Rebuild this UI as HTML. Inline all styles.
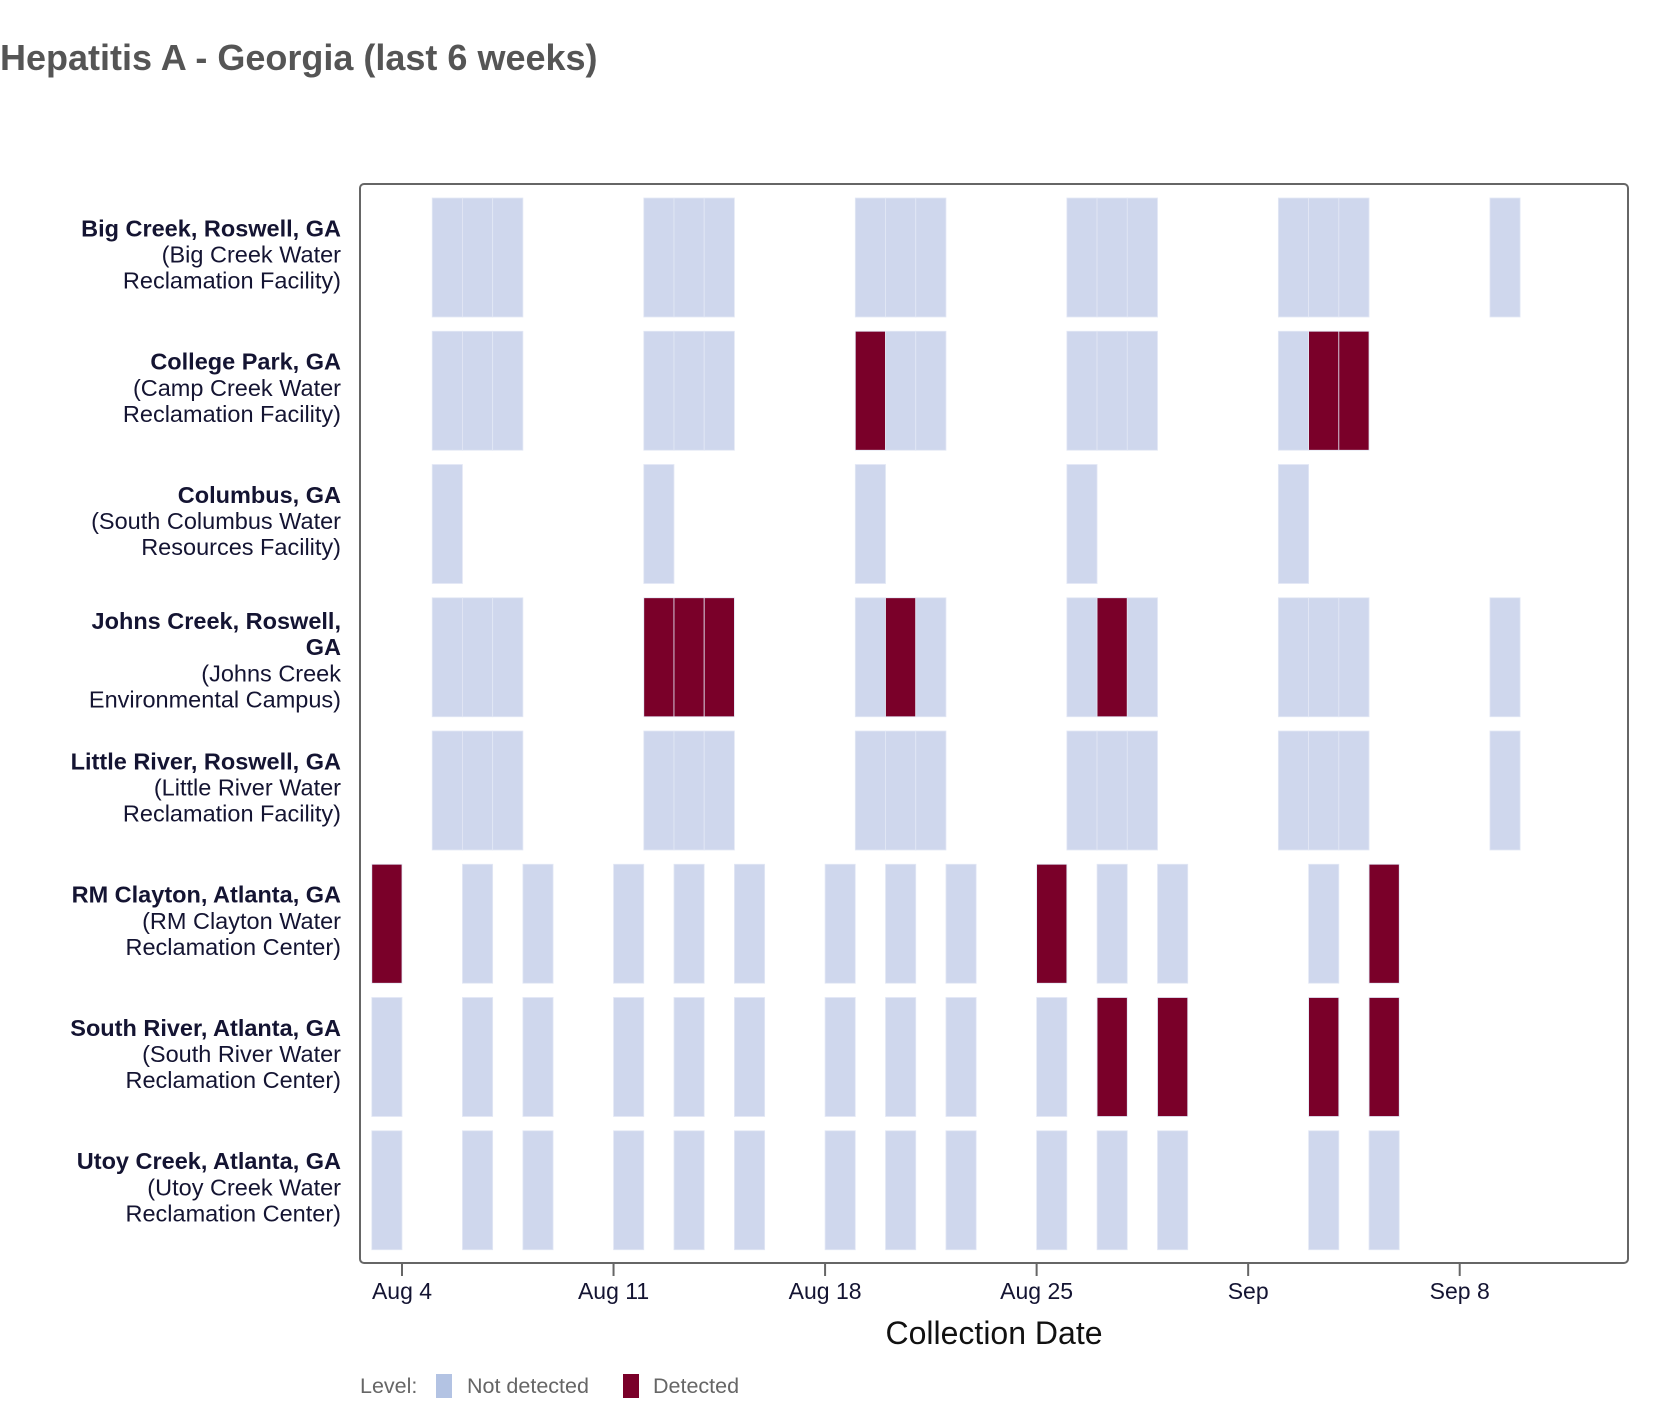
<!DOCTYPE html>
<html><head><meta charset="utf-8"><style>
html,body{margin:0;padding:0;background:#fff;}
svg{display:block;font-family:"Liberation Sans",Arial,sans-serif;}
</style></head><body>
<svg id="chart" width="1668" height="1414" viewBox="0 0 1668 1414">
<text x="0" y="70" font-size="36" font-weight="bold" fill="#555555">Hepatitis A - Georgia (last 6 weeks)</text>
<g id="tiles"></g>
<g id="ylabels"></g>
<rect x="360" y="184" width="1268" height="1079" rx="4" fill="none" stroke="#666" stroke-width="2"/>
<g id="xaxis"></g>
<text x="994" y="1344" font-size="32" text-anchor="middle" fill="#111">Collection Date</text>
<g>
<text x="360" y="1393" font-size="21.5" fill="#666">Level:</text>
<rect x="436" y="1374" width="16" height="24" fill="#b3c3e3"/>
<text x="467" y="1393" font-size="21.5" fill="#666">Not detected</text>
<rect x="623" y="1374" width="16" height="24" fill="#7a0029"/>
<text x="653" y="1393" font-size="21.5" fill="#666">Detected</text>
</g>
</svg>
<script>
// Day offsets relative to Aug 4 (tile spans [day, day+1])
const sites = [
 ["Big Creek, Roswell, GA","(Big Creek Water","Reclamation Facility)"],
 ["College Park, GA","(Camp Creek Water","Reclamation Facility)"],
 ["Columbus, GA","(South Columbus Water","Resources Facility)"],
 ["Johns Creek, Roswell,","GA","(Johns Creek","Environmental Campus)"],
 ["Little River, Roswell, GA","(Little River Water","Reclamation Facility)"],
 ["RM Clayton, Atlanta, GA","(RM Clayton Water","Reclamation Center)"],
 ["South River, Atlanta, GA","(South River Water","Reclamation Center)"],
 ["Utoy Creek, Atlanta, GA","(Utoy Creek Water","Reclamation Center)"]
];
const boldLines = [1,1,1,2,1,1,1,1];
const bigCreekDays = [1,2,3,8,9,10,15,16,17,22,23,24,29,30,31,36];
const bigCreekDetected = [];
const collegeParkDays = [1,2,3,8,9,10,15,16,17,22,23,24,29,30,31];
const collegeParkDetected = [15,30,31];
const columbusDays = [1,8,15,22,29];
const columbusDetected = [];
const johnsCreekDays = [1,2,3,8,9,10,15,16,17,22,23,24,29,30,31,36];
const johnsCreekDetected = [8,9,10,16,23];
const littleRiverDays = [1,2,3,8,9,10,15,16,17,22,23,24,29,30,31,36];
const littleRiverDetected = [];
const rmClaytonDays = [-1,2,4,7,9,11,14,16,18,21,23,25,30,32];
const rmClaytonDetected = [-1,21,32];
const southRiverDays = [-1,2,4,7,9,11,14,16,18,21,23,25,30,32];
const southRiverDetected = [23,25,30,32];
const utoyDays = [-1,2,4,7,9,11,14,16,18,21,23,25,30,32];
const utoyDetected = [];
const tickDays = [0,7,14,21,28,35];
const tickLabels = ["Aug 4","Aug 11","Aug 18","Aug 25","Sep","Sep 8"];

const allDays=[bigCreekDays,collegeParkDays,columbusDays,johnsCreekDays,littleRiverDays,rmClaytonDays,southRiverDays,utoyDays];
const allDet=[bigCreekDetected,collegeParkDetected,columbusDetected,johnsCreekDetected,littleRiverDetected,rmClaytonDetected,southRiverDetected,utoyDetected];

const NS="http://www.w3.org/2000/svg";
const x0=402, dayW=30.22;
const xs=d=>x0+d*dayW;
const rowTop=i=>198+i*133.25;
const tileH=119;
const tiles=document.getElementById('tiles');
allDays.forEach((days,i)=>{
  days.forEach(d=>{
    const r=document.createElementNS(NS,'rect');
    r.setAttribute('x',xs(d));
    r.setAttribute('y',rowTop(i));
    r.setAttribute('width',dayW);
    r.setAttribute('height',tileH);
    const det=allDet[i].includes(d);
    r.setAttribute('fill',det?'#7a0029':'#cfd7ed');
    r.setAttribute('stroke','#e3e8f5');
    r.setAttribute('stroke-width','0.8');
    
    
    tiles.appendChild(r);
  });
});
const yl=document.getElementById('ylabels');
sites.forEach((lines,i)=>{
  const c=rowTop(i)+tileH/2;
  const n=lines.length;
  const first=c+5-26.2*(n-1)/2+(n===4?6:0);
  const t=document.createElementNS(NS,'text');
  t.setAttribute('text-anchor','end');
  t.setAttribute('font-size','23.5');
  t.setAttribute('fill','#141432');
  
  
  lines.forEach((ln,j)=>{
    const s=document.createElementNS(NS,'tspan');
    s.setAttribute('x',341);
    s.setAttribute('y',first+j*26.2);
    if(j<boldLines[i]) s.setAttribute('font-weight','bold');
    s.textContent=ln;
    t.appendChild(s);
  });
  yl.appendChild(t);
});
const xa=document.getElementById('xaxis');
tickDays.forEach((d,i)=>{
  const l=document.createElementNS(NS,'line');
  l.setAttribute('x1',xs(d));l.setAttribute('x2',xs(d));
  l.setAttribute('y1',1263);l.setAttribute('y2',1276);
  l.setAttribute('stroke','#666');l.setAttribute('stroke-width','2');
  
  
  xa.appendChild(l);
  const t=document.createElementNS(NS,'text');
  t.setAttribute('x',xs(d));t.setAttribute('y',1299);
  t.setAttribute('text-anchor','middle');t.setAttribute('font-size','23');
  t.setAttribute('fill','#141432');
  
  
  t.textContent=tickLabels[i];
  xa.appendChild(t);
});
</script>
</body></html>
